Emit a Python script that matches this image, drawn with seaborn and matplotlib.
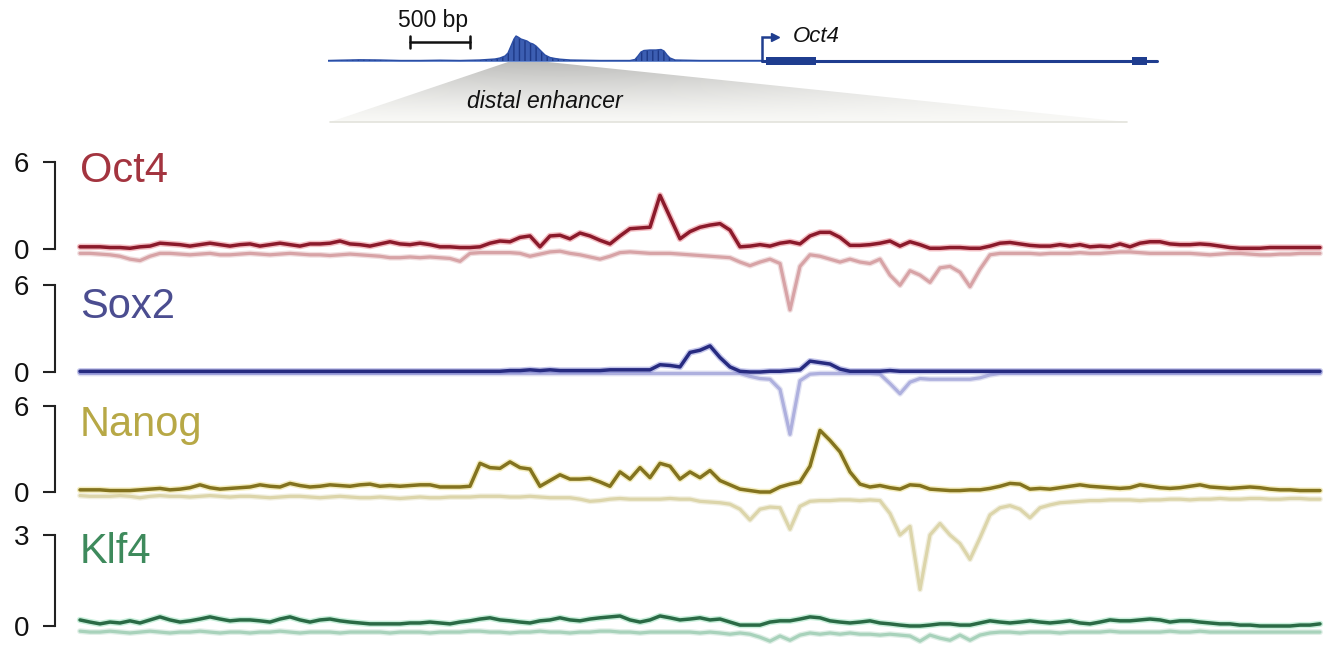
import numpy as np
import matplotlib
matplotlib.use("Agg")
import matplotlib.pyplot as plt
import matplotlib.patheffects as pe
from matplotlib.patches import Polygon, Rectangle
import seaborn as sns

# ---------------------------------------------------------------- data
track_names = ["Oct4", "Sox2", "Nanog", "Klf4"]
track_max = [6, 6, 6, 3]

# read-density bins across the distal enhancer window
bins = np.arange(125)

oct4_fwd = [.15, .15, .15, .1, .1, .05, .15, .2, .4, .35,
            .3, .2, .3, .4, .3, .2, .3, .35, .2, .3,
            .4, .3, .2, .35, .35, .4, .55, .35, .3, .2,
            .35, .5, .35, .3, .4, .3, .15, .15, .1, .1,
            .15, .4, .55, .5, .8, .9, .15, .9, .95, .7,
            1.1, .9, .6, .35, .9, 1.4, 1.45, 1.5, 3.7, 2.2,
            .7, 1.2, 1.5, 1.65, 1.75, 1.3, .15, .2, .3, .2,
            .4, .5, .35, .9, 1.15, 1.15, .8, .25, .25, .3,
            .4, .55, .2, .5, .3, .05, .05, .1, .1, .05,
            .05, .2, .4, .45, .35, .25, .2, .2, .3, .2,
            .3, .15, .2, .15, .35, .15, .4, .5, .5, .35,
            .3, .3, .35, .3, .2, .1, .05, .05, .05, .1,
            .1, .1, .1, .1, .1]
oct4_rev = [-.3, -.3, -.35, -.4, -.5, -.7, -.8, -.5, -.3, -.3,
            -.35, -.4, -.35, -.3, -.4, -.4, -.35, -.3, -.35, -.4,
            -.35, -.3, -.35, -.4, -.4, -.45, -.4, -.35, -.4, -.45,
            -.5, -.6, -.6, -.55, -.6, -.55, -.6, -.65, -.85, -.3,
            -.25, -.25, -.25, -.25, -.3, -.5, -.35, -.2, -.15, -.3,
            -.4, -.55, -.7, -.5, -.25, -.2, -.25, -.3, -.3, -.3,
            -.35, -.4, -.45, -.5, -.55, -.6, -.9, -1.15, -.9, -.7,
            -1.0, -4.2, -1.2, -.4, -.5, -.7, -.9, -.7, -.9, -1.0,
            -.7, -1.8, -2.5, -1.5, -1.8, -2.3, -1.3, -1.2, -1.6, -2.6,
            -1.4, -.4, -.3, -.3, -.3, -.3, -.35, -.3, -.3, -.3,
            -.25, -.3, -.3, -.25, -.2, -.2, -.25, -.3, -.3, -.3,
            -.3, -.3, -.35, -.4, -.35, -.3, -.3, -.35, -.4, -.4,
            -.35, -.35, -.3, -.3, -.3]

sox2_fwd = [.05, .05, .05, .05, .05, .05, .05, .05, .05, .05,
            .05, .05, .05, .05, .05, .05, .05, .05, .05, .05,
            .05, .05, .05, .05, .05, .05, .05, .05, .05, .05,
            .05, .05, .05, .05, .05, .05, .05, .05, .05, .05,
            .05, .05, .05, .1, .1, .15, .1, .15, .1, .1,
            .1, .1, .1, .15, .15, .15, .15, .15, .5, .45,
            .35, 1.35, 1.5, 1.8, 1.0, .35, .05, 0, 0, .05,
            .05, .1, .15, .75, .65, .55, .2, .05, .05, .05,
            .05, .1, .05, .05, .05, .05, .05, .05, .05, .05,
            .05, .05, .05, .05, .05, .05, .05, .05, .05, .05,
            .05, .05, .05, .05, .05, .05, .05, .05, .05, .05,
            .05, .05, .05, .05, .05, .05, .05, .05, .05, .05,
            .05, .05, .05, .05, .05]
sox2_rev = [-.1, -.1, -.1, -.1, -.1, -.1, -.1, -.1, -.1, -.1,
            -.1, -.1, -.1, -.1, -.1, -.1, -.1, -.1, -.1, -.1,
            -.1, -.1, -.1, -.1, -.1, -.1, -.1, -.1, -.1, -.1,
            -.1, -.1, -.1, -.1, -.1, -.1, -.1, -.1, -.1, -.1,
            -.1, -.1, -.1, -.1, -.1, -.1, -.1, -.1, -.1, -.1,
            -.1, -.1, -.1, -.1, -.1, -.1, -.1, -.1, -.1, -.1,
            -.1, -.1, -.1, -.1, -.1, -.1, -.1, -.3, -.45, -.5,
            -1.2, -4.3, -.6, -.15, -.1, -.1, -.1, -.1, -.1, -.1,
            -.15, -.8, -1.5, -.7, -.45, -.5, -.5, -.5, -.5, -.5,
            -.4, -.2, -.1, -.1, -.1, -.1, -.1, -.1, -.1, -.1,
            -.1, -.1, -.1, -.1, -.1, -.1, -.1, -.1, -.1, -.1,
            -.1, -.1, -.1, -.1, -.1, -.1, -.1, -.1, -.1, -.1,
            -.1, -.1, -.1, -.1, -.1]

nanog_fwd = [.15, .15, .15, .1, .1, .1, .15, .2, .25, .15,
             .2, .3, .5, .3, .2, .25, .3, .35, .5, .4,
             .35, .6, .45, .35, .4, .5, .45, .4, .5, .55,
             .4, .45, .4, .45, .5, .5, .35, .35, .35, .4,
             2.0, 1.7, 1.65, 2.1, 1.7, 1.6, .4, .8, 1.2, .9,
             .9, .95, .7, .4, 1.4, .9, 1.7, 1.0, 2.0, 1.8,
             .9, 1.4, 1.0, 1.5, .8, .5, .2, .1, 0, 0,
             .35, .55, .7, 1.8, 4.3, 3.6, 2.8, 1.4, .55, .35,
             .45, .3, .2, .5, .45, .2, .15, .1, .1, .15,
             .15, .25, .4, .6, .55, .2, .25, .2, .3, .4,
             .5, .4, .35, .3, .25, .3, .5, .4, .3, .25,
             .3, .4, .5, .35, .3, .25, .3, .35, .3, .2,
             .15, .15, .1, .1, .1]
nanog_rev = [-.25, -.3, -.3, -.3, -.25, -.3, -.4, -.3, -.25, -.3,
             -.3, -.35, -.3, -.25, -.3, -.35, -.3, -.3, -.35, -.4,
             -.35, -.3, -.3, -.35, -.4, -.35, -.3, -.35, -.4, -.4,
             -.35, -.4, -.45, -.4, -.35, -.4, -.4, -.35, -.35, -.35,
             -.3, -.3, -.3, -.35, -.35, -.3, -.35, -.4, -.4, -.4,
             -.5, -.65, -.6, -.5, -.45, -.5, -.5, -.5, -.5, -.45,
             -.5, -.5, -.65, -.7, -.75, -.85, -1.2, -1.95, -1.2, -1.05,
             -1.1, -2.6, -1.0, -.65, -.6, -.6, -.55, -.55, -.6, -.55,
             -.6, -1.5, -3.0, -2.4, -6.8, -3.0, -2.2, -3.0, -3.6, -4.7,
             -3.2, -1.6, -1.1, -.95, -1.2, -1.8, -1.1, -.9, -.75, -.7,
             -.65, -.6, -.6, -.55, -.55, -.55, -.6, -.55, -.55, -.5,
             -.5, -.55, -.5, -.5, -.45, -.5, -.5, -.45, -.45, -.5,
             -.5, -.45, -.45, -.5, -.5]

klf4_fwd = [.2, .13, .07, .13, .1, .17, .1, .2, .3, .2,
            .13, .17, .23, .3, .23, .17, .2, .2, .17, .13,
            .23, .3, .2, .13, .2, .23, .17, .13, .1, .07,
            .07, .07, .07, .1, .1, .13, .1, .07, .13, .17,
            .23, .27, .2, .17, .13, .1, .17, .2, .27, .2,
            .17, .23, .27, .3, .33, .2, .13, .2, .33, .27,
            .2, .23, .27, .2, .23, .13, .03, .03, .03, .13,
            .17, .17, .23, .3, .27, .17, .13, .1, .13, .17,
            .1, .07, .03, 0, 0, .03, .07, .07, .03, .03,
            .1, .17, .13, .1, .13, .17, .13, .1, .13, .17,
            .1, .07, .13, .2, .17, .17, .2, .23, .2, .13,
            .17, .17, .13, .1, .07, .07, .03, .03, 0, 0,
            0, 0, .03, .03, .07]
klf4_rev = [-.17, -.2, -.2, -.17, -.2, -.23, -.2, -.17, -.2, -.23,
            -.2, -.2, -.17, -.2, -.23, -.2, -.2, -.23, -.2, -.2,
            -.17, -.2, -.23, -.2, -.2, -.2, -.23, -.2, -.2, -.2,
            -.2, -.23, -.2, -.2, -.2, -.23, -.2, -.2, -.2, -.17,
            -.17, -.2, -.2, -.23, -.2, -.2, -.17, -.2, -.2, -.23,
            -.2, -.2, -.17, -.17, -.2, -.2, -.23, -.2, -.2, -.2,
            -.2, -.2, -.23, -.2, -.23, -.27, -.23, -.27, -.37, -.5,
            -.33, -.47, -.3, -.23, -.27, -.23, -.27, -.23, -.27, -.27,
            -.3, -.27, -.3, -.33, -.5, -.3, -.4, -.47, -.3, -.47,
            -.3, -.23, -.2, -.2, -.23, -.2, -.2, -.2, -.23, -.2,
            -.2, -.2, -.2, -.17, -.2, -.2, -.2, -.2, -.2, -.17,
            -.2, -.2, -.17, -.2, -.2, -.2, -.2, -.2, -.2, -.2,
            -.2, -.2, -.2, -.2, -.2]

# Oct4 locus (bp from the left edge of the locus view)
locus_len_bp = 6933
cov_pos = [0, 100, 267, 433, 600, 767, 933, 1100, 1267,
           1392, 1433, 1475, 1500, 1525, 1550, 1567, 1583, 1608, 1633,
           1658, 1683, 1708, 1733, 1758, 1783, 1808, 1850, 1892, 1933,
           2017, 2267, 2517, 2558, 2583, 2608, 2633, 2683, 2733, 2775,
           2800, 2825, 2850, 2892, 3100, 3433, 3617]
cov_depth = [.5, .8, 1.2, 1.0, .5, .5, .8, .5, 1.0,
             2, 3, 5, 8, 15, 22, 25, 24, 22, 21,
             20, 18, 17, 15, 12, 9, 6, 3.5, 2.5, 1.8,
             1.0, .5, .5, 1.5, 5, 9, 10.5, 11, 11, 11.5,
             10, 6, 3, 1, .5, .5, .5]
tss_bp = 3617
gene_end_bp = 6908
exon_starts = [3650, 6700]
exon_ends = [4067, 6825]
scalebar_start_bp = 683
scalebar_len_bp = 500

# ---------------------------------------------------------------- style
sns.set_theme(style="white")
plt.rcParams["font.family"] = ["Liberation Sans", "DejaVu Sans"]

W, H, DPI = 1324, 645, 100
fig = plt.figure(figsize=(W / DPI, H / DPI), dpi=DPI)
fig.patch.set_facecolor("white")


def px_axes(x0, y0, x1, y1):
    return fig.add_axes([x0 / W, 1 - y1 / H, (x1 - x0) / W, (y1 - y0) / H])


# full-figure pixel canvas for the callout wedge and track titles
canvas = px_axes(0, 0, W, H)
canvas.set_xlim(0, W)
canvas.set_ylim(H, 0)
canvas.axis("off")

wedge = Polygon([(508, 62), (548, 62), (1127, 122), (330, 122)], closed=True,
                facecolor="none", edgecolor="none")
canvas.add_patch(wedge)
gx = np.linspace(330, 1127, 400)
gy = np.linspace(62, 122, 80)
GX, GY = np.meshgrid(gx, gy)
t = (GY - 62) / 60
shade = 0.975 - 0.2 * (1 - t) ** 1.3 * np.exp(-((GX - 560) / 420) ** 2) - 0.03 * (1 - t)
rgb = np.dstack([shade, shade, shade * 0.99])
im = canvas.imshow(rgb, extent=[330, 1127, 122, 62], origin="upper",
                   aspect="auto", zorder=1, interpolation="bilinear")
im.set_clip_path(wedge)
canvas.plot([330, 1127], [122, 122], color="#e3e3dc", lw=1.2, zorder=2)
canvas.set_xlim(0, W)
canvas.set_ylim(H, 0)
canvas.text(545, 102, "distal enhancer", ha="center", va="center",
            fontsize=16.5, style="italic", color="#111111", zorder=3)

# ---------------------------------------------------------------- locus track
gene_blue = "#1f3d8f"
gax = px_axes(328, 0, 1160, 75)
gax.set_xlim(0, locus_len_bp)
gax.set_ylim(-14, 61)
gax.axis("off")
gax.patch.set_alpha(0)

gax.plot([0, tss_bp], [0, 0], color="#5a7ec8", lw=1.3, zorder=2)
gax.fill_between(cov_pos, 0, cov_depth, facecolor="#3c5eb2", edgecolor="#1e3987",
                 hatch="|||", linewidth=0, zorder=3)
gax.plot(cov_pos, cov_depth, color="#2c4ea4", lw=1.0, zorder=4)

gax.plot([tss_bp, gene_end_bp], [0, 0], color=gene_blue, lw=2.2, zorder=5)
for s, e in zip(exon_starts, exon_ends):
    gax.add_patch(Rectangle((s, -3.6), e - s, 7.2, facecolor=gene_blue,
                            edgecolor="none", zorder=6))
gax.plot([tss_bp, tss_bp, tss_bp + 95], [0, 24, 24], color=gene_blue, lw=1.8,
         zorder=6, solid_joinstyle="miter")
gax.plot([tss_bp + 110], [24], marker=">", ms=6, color=gene_blue, zorder=6)
gax.text(tss_bp + 255, 24, "Oct4", ha="left", va="center", fontsize=16,
         style="italic", color="#111111")

sb_end = scalebar_start_bp + scalebar_len_bp
gax.plot([scalebar_start_bp, sb_end], [19, 19], color="#111111", lw=1.8)
for xb in (scalebar_start_bp, sb_end):
    gax.plot([xb, xb], [13, 25], color="#111111", lw=1.8)
gax.text((scalebar_start_bp + sb_end) / 2 - 55, 41, f"{scalebar_len_bp} bp",
         ha="center", va="center", fontsize=16.5, color="#111111")

# ---------------------------------------------------------------- ChIP tracks
layout = {
    "Oct4":  dict(zero_px=249, top_px=162, dark="#8b1a2b", halo="#e04a58",
                  light="#d7a3a6", title="#a3343f", title_base=182),
    "Sox2":  dict(zero_px=372, top_px=285, dark="#272b80", halo="#5a60c8",
                  light="#aeb0de", title="#4b4d90", title_base=318),
    "Nanog": dict(zero_px=492, top_px=406, dark="#83731f", halo="#e0cc4a",
                  light="#dcd5aa", title="#b7a846", title_base=436),
    "Klf4":  dict(zero_px=626, top_px=535, dark="#2a6a45", halo="#66d39a",
                  light="#a8d2bb", title="#3e8a5c", title_base=563),
}
signals = {
    "Oct4": (oct4_fwd, oct4_rev),
    "Sox2": (sox2_fwd, sox2_rev),
    "Nanog": (nanog_fwd, nanog_rev),
    "Klf4": (klf4_fwd, klf4_rev),
}

for name, vmax in zip(track_names, track_max):
    cfg = layout[name]
    fwd, rev = signals[name]
    ppu = (cfg["zero_px"] - cfg["top_px"]) / vmax
    y0_px, y1_px = cfg["top_px"] - 30, cfg["zero_px"] + 120
    ax = px_axes(80, y0_px, W, y1_px)
    ax.patch.set_alpha(0)
    ax.set_xlim(0, 124.4)
    ax.set_ylim((cfg["zero_px"] - y1_px) / ppu, (cfg["zero_px"] - y0_px) / ppu)

    sns.lineplot(x=bins, y=rev, ax=ax, color=cfg["light"], lw=2.3, zorder=2)
    sns.lineplot(x=bins, y=fwd, ax=ax, color=cfg["dark"], lw=2.5, zorder=3)
    rev_line, fwd_line = ax.lines[0], ax.lines[1]
    rev_line.set_path_effects([pe.Stroke(linewidth=4.2, foreground=cfg["light"], alpha=0.35),
                               pe.Normal()])
    fwd_line.set_path_effects([pe.Stroke(linewidth=4.6, foreground=cfg["halo"], alpha=0.35),
                               pe.Normal()])
    for ln in ax.lines:
        ln.set_clip_on(False)

    ax.set(xlabel=None, ylabel=None)
    for side in ("top", "right", "bottom"):
        ax.spines[side].set_visible(False)
    ax.spines["left"].set_position(("outward", 18))
    ax.spines["left"].set_bounds(0, vmax)
    ax.spines["left"].set_linewidth(1.5)
    ax.spines["left"].set_color("#222222")
    ax.set_xticks([])
    ax.set_yticks([0, vmax])
    ax.set_yticklabels(["0", str(vmax)])
    ax.tick_params(axis="y", direction="out", length=8.5, width=1.5, color="#222222",
                   pad=10, labelsize=20, labelcolor="#111111", left=True)
    ax.grid(False)

    canvas.text(80, cfg["title_base"], name, ha="left", va="baseline",
                fontsize=30, color=cfg["title"])

fig.savefig("out.png", dpi=DPI, facecolor="white")
